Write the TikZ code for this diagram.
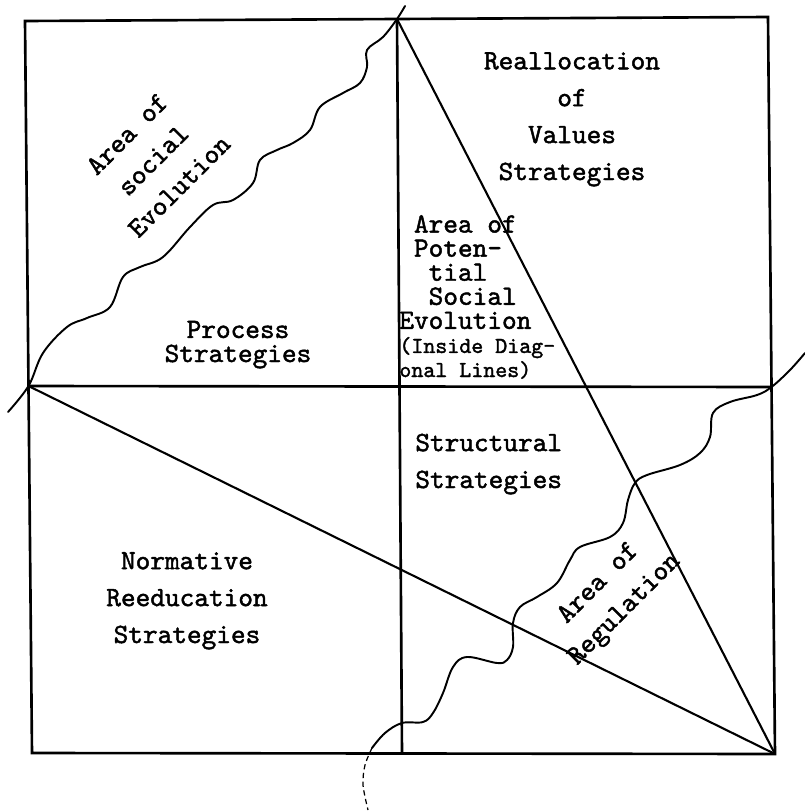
\documentclass[tikz,border=0pt]{standalone}
\usepackage{fontspec}
\newfontface\typer{lmmono10-regular.otf}[FakeBold = 1.6]
\usetikzlibrary{positioning}

\newcommand\smallmono{\fontsize{13}{13.7}\selectfont}

\begin{document}
\begin{tikzpicture}[
        x = 0.02cm, y = -0.02cm,
        boxline/.style = {line width = 1.5pt, line join = miter},
        diag/.style = {line width = 1.2pt},
        wave/.style = {line width = 1.1pt, line cap = round, line join = round},
        trail/.style = {line width = 0.7pt, densely dashed},
        blocktext/.style = {font = \typer\fontsize{15.9}{21}\selectfont, inner sep = 0pt, align = center},
        tight/.style = {font = \typer\fontsize{15.9}{13.7}\selectfont}
    ]
      \useasboundingbox (0,0) rectangle (805,812);

      \coordinate (tl) at (25,21);
      \coordinate (tr) at (768,17);
      \coordinate (br) at (775,754);
      \coordinate (bl) at (32,753);
      \coordinate (tm) at (397,19);
      \coordinate (bm) at (402,753);
      \coordinate (ml) at (28.5,386);
      \coordinate (mr) at (771.5,387);
      \coordinate (waveA) at (8,412);
      \coordinate (waveB) at (405,6);
      \coordinate (waveC) at (805,353);
      \coordinate (waveD) at (372,748);
      \coordinate (waveE) at (368,810);

      \draw[boxline] (tl) -- (tr) -- (br) -- (bl) -- cycle;
      \path[boxline] (ml) edge (mr) (tm) edge (bm);
      \path[diag] (tm) edge (br) (ml) edge (br);

      \draw[wave] plot[smooth, tension = 0.6] coordinates {
        (waveA) (ml) (43,353) (67,327) (87,318) (110,307) (123,277) (140,267)
        (163,257) (190,227) (213,205) (233,200) (253,183) (260,160) (277,150)
        (293,143) (310,130) (320,107) (343,93) (360,83) (367,67) (367,50)
        (383,37) (tm) (waveB)};
      \draw[wave] plot[smooth, tension = 0.6] coordinates {
        (waveC) (790,370) (mr) (757,395) (730,402) (713,413) (710,437) (700,453)
        (680,465) (647,475) (635,483) (628,500) (623,523) (610,537) (580,547)
        (570,560) (557,583) (537,597) (520,607) (513,623) (513,647) (507,660)
        (497,663) (467,657) (453,667) (443,693) (433,713) (423,722) (402,723)
        (385,733) (waveD)};
      \draw[trail] plot[smooth] coordinates {(waveD) (365,765) (363,785) (waveE)};

      \node[blocktext, anchor = base] (realloc) at (572,180) {Reallocation\\of\\Values\\Strategies};
      \node[blocktext, tight, align = left, anchor = base west] (potential) at (399,377)
        {\hphantom{E}Area of\\\hphantom{E}Poten-\\\hphantom{Ev}tial\\\hphantom{Ev}Social\\Evolution\\{\smallmono(Inside Diag-}\\{\smallmono onal Lines)}};
      \node[blocktext, tight, anchor = base] (process) at (238,362) {Process\\Strategies};
      \node[blocktext, align = left, anchor = base west] (structural) at (415,488) {Structural\\Strategies};
      \node[blocktext, anchor = base] (normative) at (187,643) {Normative\\Reeducation\\Strategies};
      \node[blocktext, rotate = 45] (evolution) at (153,160) {Area of\\social\\Evolution};
      \node[blocktext, rotate = 45] (regulation) at (612,597) {Area of\\Regulation};
    \end{tikzpicture}
\end{document}
